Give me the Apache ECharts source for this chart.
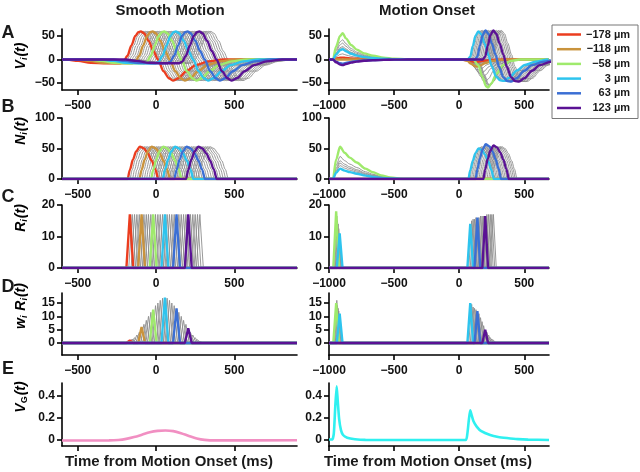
<!DOCTYPE html>
<html>
<head>
<meta charset="utf-8">
<script src="https://cdn.jsdelivr.net/npm/echarts@6/dist/echarts.min.js"></script>
<style>
html, body { margin: 0; padding: 0; background: #fff; }
#chart { width: 640px; height: 472px; }
</style>
</head>
<body>
<div id="chart"></div>
<script>
const FONT = '"Liberation Sans", Arial, Helvetica, sans-serif';

// model cells (retinal position, um) - the coloured ones are in the legend
const cellPos = [-178, -166, -154, -142, -130, -118, -106, -94, -82, -70, -58, -46, -34, -22, -10,
  3, 15, 27, 39, 51, 63, 75, 87, 99, 111, 123, 135, 147, 159, 171, 183];
const colorIndex = [0, 5, 10, 15, 20, 25];
const legendNames = ['\u2212178 \u00b5m', '\u2212118 \u00b5m', '\u221258 \u00b5m', '3 \u00b5m', '63 \u00b5m', '123 \u00b5m'];
const cellColors = ['#eb3d1f', '#c9933d', '#9fea6c', '#2ec4ee', '#3b6fd4', '#5a1294'];

// response shapes: [ms from cell onset, value]
const vSmoothShape = [[-400, 0], [-330, -3], [-250, -7], [-150, -8], [-60, -8], [-40, -5], [-15, 8], [10, 30], [35, 50], [55, 58], [70, 60], [90, 56], [120, 40], [150, 18], [180, 0], [215, -25], [250, -40], [275, -45], [310, -40], [360, -25], [420, -12], [500, -4], [600, 0]];
const vOnsetShape = [[-20, 0], [0, 6], [20, 30], [40, 52], [62, 62], [85, 55], [110, 35], [140, 10], [165, -15], [200, -38], [230, -46], [260, -47], [300, -40], [360, -24], [420, -12], [500, -5], [600, 0]];
const vOffShape = [[-40, 0], [0, -12], [30, -36], [60, -57], [75, -60], [100, -51], [140, -30], [190, -12], [250, -3], [320, 0]];
const nShape = [[-14, 0], [0, 15], [20, 32], [40, 45], [64, 53], [90, 50], [115, 42], [140, 30], [162, 16], [182, 0]];
const rShape = [[-22, 0], [0, 17], [22, 0]];
// target-appearance transient (absolute ms)
const vTransShape = [[-970, 0], [-945, 28], [-915, 50], [-895, 56], [-870, 45], [-830, 31], [-787, 21], [-730, 13], [-662, 8], [-580, 4], [-500, 1.7], [-400, 0.5], [-300, 0]];
const nTransShape = [[-970, 0], [-945, 32], [-915, 53], [-880, 43], [-840, 35], [-787, 27], [-720, 17], [-662, 11], [-600, 6], [-530, 2.5], [-430, 0]];

// smooth motion column
const onsetSmooth = [-167, -152, -137, -122, -107, -92, -77, -62, -48, -33, -18, -3, 12, 27, 42, 57, 71, 86, 101, 116, 131, 146, 161, 176, 191, 206, 220, 235, 250, 265, 280];
const weightSmooth = [1, 1.5, 2, 3, 4, 6, 7, 8.5, 10, 11.5, 12.5, 14, 15, 16, 16.8, 17, 16.8, 16, 15, 14, 13, 11.5, 10, 8.5, 7, 5.5, 4, 3, 2, 1.2, 0.6];

// motion onset column
const transA = [4, 0, 0, 0, 0, 0, 0, 0, 0, 0, 56, 42, 35, 28, 25, 22, 12, 0, 0, 0, -9, 0, 0, 0, 0, -12, 0, 0, 0, 0, 0];
const transB = [0, 0, 0, 0, 0, 0, 0, 0, 0, 0, 53, 37, 30, 26, 22, 17, 0, 0, 0, 0, 0, 0, 0, 0, 0, 0, 0, 0, 0, 0, 0];
const transCTime = [0, 0, 0, 0, 0, 0, 0, 0, 0, 0, -945, -940, -935, -930, -925, -918, 0, 0, 0, 0, 0, 0, 0, 0, 0, 0, 0, 0, 0, 0, 0];
const transC = [0, 0, 0, 0, 0, 0, 0, 0, 0, 0, 18, 16.5, 15, 14, 12.5, 11, 0, 0, 0, 0, 0, 0, 0, 0, 0, 0, 0, 0, 0, 0, 0];
const transD = [0, 0, 0, 0, 0, 0, 0, 0, 0, 0, 15, 16, 14, 13, 12, 11, 0, 0, 0, 0, 0, 0, 0, 0, 0, 0, 0, 0, 0, 0, 0];
const onsetMotion = [55, 57, 59, 60, 61, 62, 75, 90, 105, 125, 147, 150, 155, 160, 165, 85, 96, 107, 118, 129, 140, 152, 164, 176, 188, 200, 213, 226, 239, 251, 263];
const motionA = [-5, -6, -8, -10, -12, -15, -22, -30, -38, -48, -60, -58, -56, -55, -55, 60, 61, 62, 62, 62, 62, 62, 62, 62, 62, 62, 62, 62, 62, 62, 62];
const motionB = [0, 0, 0, 0, 0, 0, 0, 0, 0, 0, 0, 0, 0, 0, 0, 50, 52, 53, 53, 54, 57, 55, 53, 53, 53, 55, 53, 53, 53, 53, 53];
const motionC = [0, 0, 0, 0, 0, 0, 0, 0, 0, 0, 0, 0, 0, 0, 0, 14, 15, 15.5, 15.5, 16, 16, 16, 16.5, 16.5, 16.5, 16.5, 17, 17, 17, 17, 17];
const motionD = [0, 0, 0, 0, 0, 0, 0, 0, 0, 0, 0, 0, 0, 0, 0, 15, 14.5, 13.5, 13, 12.5, 12, 11, 9.5, 8, 6.5, 5, 4, 3, 2, 1.5, 1];

// population output V_G(t)
const vgSmooth = [[-600, -0.005], [-300, -0.004], [-240, 0], [-190, 0.01], [-140, 0.027], [-90, 0.048], [-40, 0.07], [10, 0.083], [60, 0.087], [110, 0.081], [160, 0.062], [210, 0.037], [260, 0.014], [310, 0.001], [380, -0.004], [900, -0.003]];
const vgOnset = [[-1000, 0.004], [-975, 0.005], [-963, 0.06], [-952, 0.3], [-941, 0.49], [-933, 0.36], [-922, 0.19], [-908, 0.09], [-892, 0.045], [-860, 0.02], [-800, 0.007], [-720, 0.001], [50, 0], [62, 0.05], [74, 0.18], [85, 0.27], [95, 0.23], [110, 0.17], [136, 0.12], [170, 0.08], [238, 0.045], [300, 0.028], [367, 0.018], [450, 0.008], [530, 0.003], [690, 0]];

// axes
const xRangeSmooth = [-600, 900];
const xRangeOnset = [-1000, 690];
const xTicksSmooth = [-500, 0, 500];
const xTicksOnset = [-1000, -500, 0, 500];
const yTicks = [[-50, 0, 50], [0, 50, 100], [0, 10, 20], [0, 5, 10, 15], [0, 0.2, 0.4]];
const yMin = [-65, 0, 0, -4.5, -0.055];
const yMax = [65, 100, 20, 18.75, 0.52];
const rowTop = [29, 118, 205, 293, 383];
const rowH = [61, 61, 63, 62, 63];

function shiftShape(shape, dt, k) {
  return shape.map(p => [p[0] + dt, p[1] * k]);
}
function padEnds(pts, lo, hi) {
  let out = pts.slice();
  if (!out.length || out[0][0] > lo) out.unshift([lo, 0]);
  if (out[out.length - 1][0] < hi) out.push([hi, 0]);
  return out;
}
function minus(v) {
  return String(v).replace('-', '\u2212');
}

let grids = [], xAxes = [], yAxes = [], series = [];
for (let r = 0; r < 5; r++) {
  for (let c = 0; c < 2; c++) {
    let g = r * 2 + c;
    let xr = c === 0 ? xRangeSmooth : xRangeOnset;
    let xt = c === 0 ? xTicksSmooth : xTicksOnset;
    grids.push({left: c === 0 ? 62 : 329, width: c === 0 ? 235 : 220, top: rowTop[r], height: rowH[r]});
    xAxes.push({
      type: 'value', gridIndex: g, min: xr[0], max: xr[1],
      axisLine: {show: true, onZero: false, lineStyle: {color: '#000', width: 1.6}},
      axisTick: {show: true, length: 5, customValues: xt, lineStyle: {color: '#000', width: 1.6}},
      axisLabel: {show: r < 4, customValues: xt, margin: 10, fontSize: 12, fontWeight: 'bold', fontFamily: FONT, color: '#111', formatter: minus},
      splitLine: {show: false}
    });
    yAxes.push({
      type: 'value', gridIndex: g, min: yMin[r], max: yMax[r],
      axisLine: {show: true, onZero: false, lineStyle: {color: '#000', width: 1.6}},
      axisTick: {show: true, length: 5, customValues: yTicks[r], lineStyle: {color: '#000', width: 1.6}},
      axisLabel: {customValues: yTicks[r], margin: 7, fontSize: 12, fontWeight: 'bold', fontFamily: FONT, color: '#111', formatter: minus},
      splitLine: {show: false}
    });
  }
}

function cellData(r, c, i) {
  if (c === 0) {
    let t0 = onsetSmooth[i];
    if (r === 0) return shiftShape(vSmoothShape, t0, 1);
    if (r === 1) return shiftShape(nShape, t0, 1);
    if (r === 2) return shiftShape(rShape, t0, 1);
    return shiftShape(rShape, t0, weightSmooth[i] / 17);
  }
  let t0 = onsetMotion[i], pts = [];
  if (r === 0) {
    if (transA[i]) pts = pts.concat(shiftShape(vTransShape, 0, transA[i] / 56));
    if (motionA[i] > 0) pts = pts.concat(shiftShape(vOnsetShape, t0, motionA[i] / 62));
    else if (motionA[i] < 0) pts = pts.concat(shiftShape(vOffShape, t0, -motionA[i] / 60));
  } else if (r === 1) {
    if (transB[i]) pts = pts.concat(shiftShape(nTransShape, 0, transB[i] / 53));
    if (motionB[i]) pts = pts.concat(shiftShape(nShape, t0, motionB[i] / 53));
  } else if (r === 2) {
    if (transC[i]) pts = pts.concat(shiftShape(rShape, transCTime[i], transC[i] / 17));
    if (motionC[i]) pts = pts.concat(shiftShape(rShape, t0, motionC[i] / 17));
  } else {
    if (transD[i]) pts = pts.concat(shiftShape(rShape, transCTime[i], transD[i] / 17));
    if (motionD[i]) pts = pts.concat(shiftShape(rShape, t0, motionD[i] / 17));
  }
  return pts;
}

for (let r = 0; r < 4; r++) {
  for (let c = 0; c < 2; c++) {
    let g = r * 2 + c;
    let xr = c === 0 ? xRangeSmooth : xRangeOnset;
    let order = [];
    cellPos.forEach((p, i) => { if (colorIndex.indexOf(i) < 0) order.push(i); });
    order = order.concat(colorIndex);
    order.forEach(i => {
      let k = colorIndex.indexOf(i);
      let col = k >= 0 ? cellColors[k] : '#8d8d8d';
      series.push({
        type: 'line', name: k >= 0 ? legendNames[k] : 'cell ' + cellPos[i],
        xAxisIndex: g, yAxisIndex: g,
        data: padEnds(cellData(r, c, i), xr[0], xr[1]),
        symbol: 'none', smooth: r < 2 ? 0.3 : false, smoothMonotone: 'x',
        color: col,
        lineStyle: {color: col, width: k >= 0 ? 2.4 : 0.9},
        silent: true, animation: false
      });
    });
  }
}
series.push({type: 'line', xAxisIndex: 8, yAxisIndex: 8, data: vgSmooth, symbol: 'none', smooth: 0.3,
  lineStyle: {color: '#f18fc2', width: 2.6}, silent: true, animation: false});
series.push({type: 'line', xAxisIndex: 9, yAxisIndex: 9, data: vgOnset, symbol: 'none', smooth: 0.2,
  lineStyle: {color: '#2ff0f0', width: 2.6}, silent: true, animation: false});

function label(x, y, text, size) {
  return {type: 'text', x: x, y: y, silent: true,
    style: {text: text, font: 'bold ' + size + 'px ' + FONT, fill: '#1a1a1a', align: 'center', verticalAlign: 'middle', textAlign: 'center', textVerticalAlign: 'middle'}};
}
const nameRich = {
  v: {fontFamily: FONT, fontSize: 14, fontWeight: 'bold', fontStyle: 'italic', color: '#1a1a1a', lineHeight: 16, verticalAlign: 'middle'},
  s: {fontFamily: FONT, fontSize: 9, fontWeight: 'bold', fontStyle: 'italic', color: '#1a1a1a', lineHeight: 16, verticalAlign: 'bottom', padding: [6, 1, 0, 0]},
  g: {fontFamily: FONT, fontSize: 9, fontWeight: 'bold', color: '#1a1a1a', lineHeight: 16, verticalAlign: 'bottom', padding: [6, 1, 0, 0]}
};
function yName(x, y, text) {
  return {type: 'text', x: x, y: y, rotation: Math.PI / 2, silent: true,
    style: {text: text, rich: nameRich, align: 'center', verticalAlign: 'middle', textAlign: 'center', textVerticalAlign: 'middle'}};
}

let graphics = [
  label(170, 11, 'Smooth Motion', 15),
  label(427, 11, 'Motion Onset', 15),
  label(169, 462, 'Time from Motion Onset (ms)', 15),
  label(428, 462, 'Time from Motion Onset (ms)', 15),
  label(8, 33, 'A', 18), label(8, 107, 'B', 18), label(8, 197, 'C', 18), label(8, 287, 'D', 18), label(8, 369, 'E', 18),
  yName(21, 56, '{v|V}{s|i}{v|(t)}'),
  yName(21, 131, '{v|N}{s|i}{v|(t)}'),
  yName(21, 218, '{v|R}{s|i}{v|(t)}'),
  yName(21, 306, '{v|w}{s|i}{v| R}{s|i}{v|(t)}'),
  yName(21, 397, '{v|V}{g|G}{v|(t)}')
];

let chart = echarts.init(document.getElementById('chart'), null, {renderer: 'canvas'});
chart.setOption({
  animation: false,
  backgroundColor: '#fff',
  grid: grids,
  xAxis: xAxes,
  yAxis: yAxes,
  series: series,
  legend: {
    data: legendNames, orient: 'vertical', left: 552, top: 25,
    padding: [4, 8, 5, 5], itemGap: 3.7, itemWidth: 24, itemHeight: 2.5, icon: 'rect',
    borderColor: '#777', borderWidth: 1, selectedMode: false,
    formatter: function (n) { return '{a|' + n + '}'; },
    textStyle: {rich: {a: {width: 44, align: 'right', fontFamily: FONT, fontSize: 11, fontWeight: 'bold', color: '#1a1a1a', lineHeight: 13}}}
  },
  graphic: graphics
});
</script>
</body>
</html>
